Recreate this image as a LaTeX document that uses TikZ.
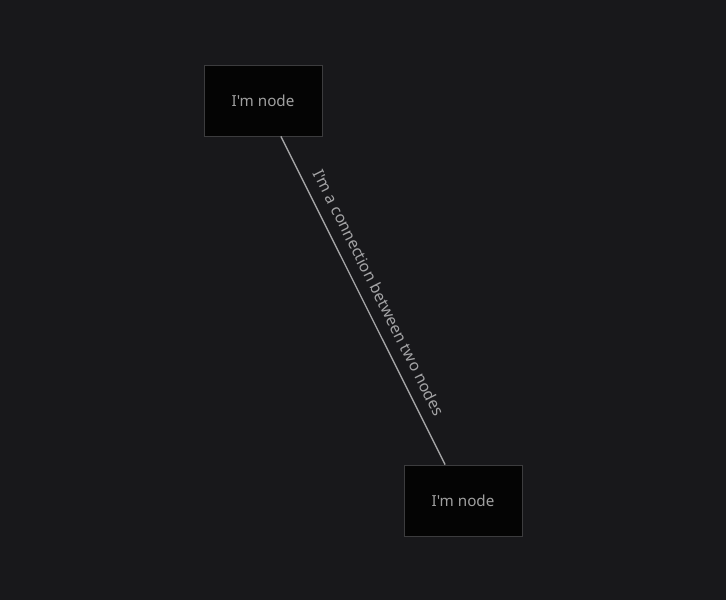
\documentclass[tikz,border=0pt]{standalone}
\usepackage{fontspec}
\newfontfamily\uifont{Noto Sans}
\definecolor{bg}{HTML}{18181B}
\definecolor{nodefill}{HTML}{040404}
\definecolor{nodeborder}{HTML}{3C3C3E}
\definecolor{nodetext}{HTML}{A0A0A0}
\definecolor{linec}{HTML}{A6A6A8}
\definecolor{labeltext}{HTML}{A4A4A6}
\tikzset{
  box/.style={draw=nodeborder, fill=nodefill, line width=0.8pt, minimum width=118pt, minimum height=71pt, inner sep=0pt, text=nodetext, font=\uifont\fontsize{15.2}{17}\selectfont},
  conn/.style={draw=linec, line width=1.3pt},
  connlabel/.style={text=labeltext, font=\uifont\fontsize{15.8}{18}\selectfont, inner sep=0pt}
}
\begin{document}
\begin{tikzpicture}[x=1pt,y=-1pt]
\fill[bg] (0,0) rectangle (726,600);
\useasboundingbox (0,0) rectangle (726,600);
\node[box] (a) at (263,100.5) {I'm node};
\node[box] (b) at (463,500.5) {I'm node};
\draw[conn] (a) -- (b) node[connlabel, midway, sloped, above=11pt] {I'm a connection between two nodes};
\end{tikzpicture}
\end{document}
